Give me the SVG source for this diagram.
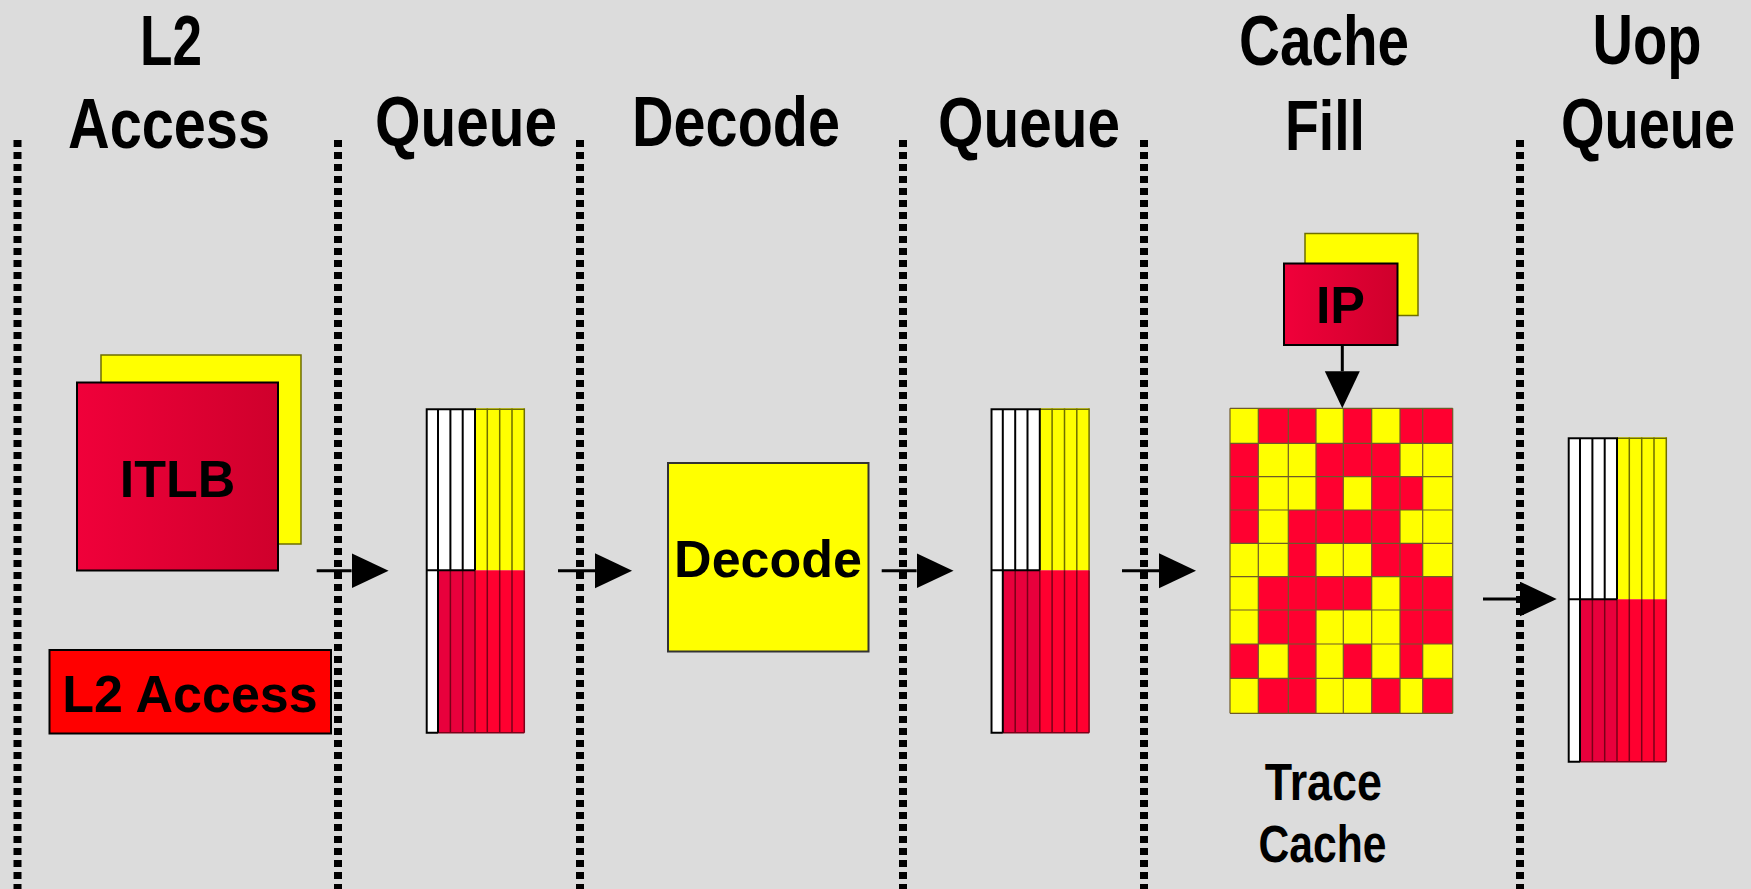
<svg xmlns="http://www.w3.org/2000/svg" width="1751" height="889" viewBox="0 0 1751 889">
<style>
.hdr{font-family:"Liberation Sans Narrow","Liberation Sans",Arial,sans-serif;font-weight:bold;font-size:70px;fill:#000;text-anchor:middle}
.sub{font-family:"Liberation Sans Narrow","Liberation Sans",Arial,sans-serif;font-weight:bold;font-size:51px;fill:#000;text-anchor:middle}
.lbl{font-family:"Liberation Sans",Arial,sans-serif;font-weight:bold;font-size:52px;fill:#000;text-anchor:middle}
.div{stroke:#000;stroke-width:8;stroke-dasharray:7 5;fill:none}
.arr{stroke:#000;stroke-width:3;fill:none;marker-end:url(#ah)}
.yel{fill:#ffff00;stroke:#6e6e00;stroke-width:1.5}
.redg{fill:url(#rg);stroke:#000;stroke-width:2}
.y{fill:#ffff00}
.gl{stroke:#6f5a2a;stroke-width:1.2;fill:none}
.qw{fill:#fff}
.qy{fill:#ffff00}
.qr1{fill:#e8003c}
.qr2{fill:#ff0030}
.qlb{stroke:#000;stroke-width:2;fill:none}
.qly{stroke:#6e6e00;stroke-width:1.5;fill:none}
.qlr{stroke:#7a0018;stroke-width:1.5;fill:none}
</style>
<defs>
<linearGradient id="rg" x1="0" y1="0" x2="1" y2="0">
<stop offset="0" stop-color="#f0003a"/>
<stop offset="1" stop-color="#cf002c"/>
</linearGradient>
<marker id="ah" markerUnits="userSpaceOnUse" markerWidth="38" markerHeight="36" refX="0" refY="17.5" orient="auto">
<path d="M0,0 L37,17.5 L0,35 Z" fill="#000"/>
</marker>
<g id="qshape">
<rect class="qw" x="0" y="0" width="49.3" height="162"/>
<rect class="qy" x="49.3" y="0" width="49.3" height="162"/>
<rect class="qw" x="0" y="162" width="12.3" height="162.4"/>
<rect class="qr1" x="12.3" y="162" width="37" height="162.4"/>
<rect class="qr2" x="49.3" y="162" width="49.3" height="162.4"/>
<path class="qly" d="M61.6,0V162M74,0V162M86.3,0V162M49.3,1H98.6M98.6,0V162"/>
<path class="qlr" d="M24.7,162V324.4M37,162V324.4M49.3,162V324.4M61.6,162V324.4M74,162V324.4M86.3,162V324.4M98.6,162V324.4M12.3,324.4H98.6"/>
<path class="qlb" d="M1,0V324.4H12.3M0,1H49.3M12.3,0V324.4M24.7,0V162M37,0V162M49.3,0V162M0,162H49.3"/>
</g>
</defs>
<rect x="0" y="0" width="1751" height="889" fill="#dcdcdc"/>

<g id="headers">
<text class="hdr" x="171" y="65" textLength="62" lengthAdjust="spacingAndGlyphs">L2</text>
<text class="hdr" x="169" y="148" textLength="202" lengthAdjust="spacingAndGlyphs">Access</text>
<text class="hdr" x="466" y="146" textLength="182" lengthAdjust="spacingAndGlyphs">Queue</text>
<text class="hdr" x="736" y="146" textLength="208" lengthAdjust="spacingAndGlyphs">Decode</text>
<text class="hdr" x="1029" y="147" textLength="182" lengthAdjust="spacingAndGlyphs">Queue</text>
<text class="hdr" x="1324" y="65" textLength="170" lengthAdjust="spacingAndGlyphs">Cache</text>
<text class="hdr" x="1325" y="150" textLength="80" lengthAdjust="spacingAndGlyphs">Fill</text>
<text class="hdr" x="1647" y="64" textLength="109" lengthAdjust="spacingAndGlyphs">Uop</text>
<text class="hdr" transform="translate(1648,148) scale(0.8,1)" x="0" y="0">Queue</text>
</g>

<g id="dividers">
<line class="div" x1="17.5" y1="140" x2="17.5" y2="889"/>
<line class="div" x1="338" y1="140" x2="338" y2="889"/>
<line class="div" x1="580" y1="140" x2="580" y2="889"/>
<line class="div" x1="903" y1="140" x2="903" y2="889"/>
<line class="div" x1="1144" y1="140" x2="1144" y2="889"/>
<line class="div" x1="1520" y1="140" x2="1520" y2="889"/>
</g>

<g id="itlb">
<rect class="yel" x="101" y="355" width="200" height="189"/>
<rect class="redg" x="77" y="382.5" width="201" height="188"/>
<text class="lbl" x="177.5" y="496.5">ITLB</text>
</g>

<g id="l2access">
<rect x="49.5" y="650" width="281.5" height="83.5" fill="#ff0000" stroke="#000" stroke-width="2"/>
<text class="lbl" x="190" y="711.5">L2 Access</text>
</g>

<g id="queue1" transform="translate(425.7,408.3)">
<use href="#qshape"/>
</g>

<g id="decode">
<rect x="668" y="463" width="200.5" height="188.5" fill="#ffff00" stroke="#333" stroke-width="2"/>
<text class="lbl" x="768" y="576.5">Decode</text>
</g>

<g id="queue2" transform="translate(990.5,408.3)">
<use href="#qshape"/>
</g>

<g id="ip">
<rect class="yel" x="1305" y="233.5" width="113" height="82"/>
<rect class="redg" x="1284" y="263.5" width="113.5" height="81.5"/>
<text class="lbl" x="1340.5" y="323.3">IP</text>
</g>

<g id="tracecache">
<rect x="1230" y="408.3" width="222.7" height="305" fill="#ff0030"/>
<rect class="y" x="1230" y="408.3" width="28.3" height="35"/>
<rect class="y" x="1316" y="408.3" width="27.3" height="35"/>
<rect class="y" x="1371.7" y="408.3" width="28.3" height="35"/>
<rect class="y" x="1258.3" y="443.3" width="57.7" height="33.4"/>
<rect class="y" x="1400" y="443.3" width="52.7" height="33.4"/>
<rect class="y" x="1258.3" y="476.7" width="57.7" height="33.3"/>
<rect class="y" x="1343.3" y="476.7" width="28.4" height="33.3"/>
<rect class="y" x="1422.7" y="476.7" width="30" height="33.3"/>
<rect class="y" x="1258.3" y="510" width="30" height="33.3"/>
<rect class="y" x="1400" y="510" width="52.7" height="33.3"/>
<rect class="y" x="1230" y="543.3" width="58.3" height="33.4"/>
<rect class="y" x="1316" y="543.3" width="55.7" height="33.4"/>
<rect class="y" x="1422.7" y="543.3" width="30" height="33.4"/>
<rect class="y" x="1230" y="576.7" width="28.3" height="33.3"/>
<rect class="y" x="1371.7" y="576.7" width="28.3" height="33.3"/>
<rect class="y" x="1230" y="610" width="28.3" height="34"/>
<rect class="y" x="1316" y="610" width="84" height="34"/>
<rect class="y" x="1258.3" y="644" width="30" height="34.3"/>
<rect class="y" x="1316" y="644" width="27.3" height="34.3"/>
<rect class="y" x="1371.7" y="644" width="28.3" height="34.3"/>
<rect class="y" x="1422.7" y="644" width="30" height="34.3"/>
<rect class="y" x="1230" y="678.3" width="28.3" height="35"/>
<rect class="y" x="1316" y="678.3" width="55.7" height="35"/>
<rect class="y" x="1400" y="678.3" width="22.7" height="35"/>
<path class="gl" d="M1230,408.3V713.3M1258.3,408.3V713.3M1288.3,408.3V713.3M1316,408.3V713.3M1343.3,408.3V713.3M1371.7,408.3V713.3M1400,408.3V713.3M1422.7,408.3V713.3M1452.7,408.3V713.3M1230,408.3H1452.7M1230,443.3H1452.7M1230,476.7H1452.7M1230,510H1452.7M1230,543.3H1452.7M1230,576.7H1452.7M1230,610H1452.7M1230,644H1452.7M1230,678.3H1452.7M1230,713.3H1452.7"/>
<text class="sub" x="1323.3" y="800" textLength="117" lengthAdjust="spacingAndGlyphs">Trace</text>
<text class="sub" x="1322.5" y="861.7" textLength="128" lengthAdjust="spacingAndGlyphs">Cache</text>
</g>

<g id="uopqueue" transform="translate(1567.7,437.3)">
<use href="#qshape"/>
</g>

<g id="connectors">
<line class="arr" x1="316.7" y1="570.7" x2="351.6" y2="570.7"/>
<line class="arr" x1="558" y1="570.7" x2="595" y2="570.7"/>
<line class="arr" x1="881.7" y1="570.7" x2="916.6" y2="570.7"/>
<line class="arr" x1="1122" y1="570.7" x2="1159" y2="570.7"/>
<line class="arr" x1="1483" y1="599" x2="1519.7" y2="599"/>
<line class="arr" x1="1342.3" y1="345" x2="1342.3" y2="371.3"/>
</g>
</svg>
